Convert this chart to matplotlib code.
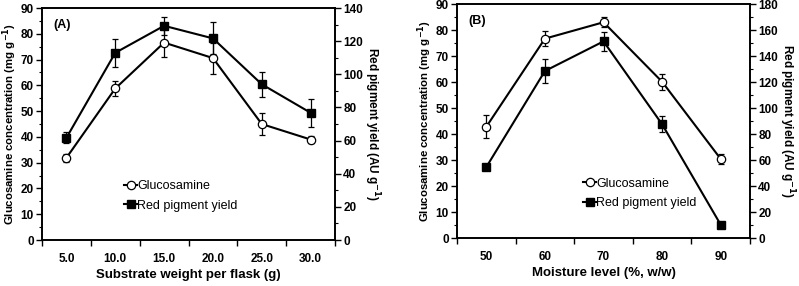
import numpy as np
import matplotlib.pyplot as plt
from matplotlib.ticker import MultipleLocator, FixedLocator, NullFormatter
from matplotlib.lines import Line2D

plt.rcParams['font.family'] = ['Liberation Sans', 'DejaVu Sans']

# panel A: substrate weight
subst = [5, 10, 15, 20, 25, 30]
subst_labels = ['5.0', '10.0', '15.0', '20.0', '25.0', '30.0']
glu_a = [31.9, 58.8, 76.6, 70.6, 45.0, 39.0]
glu_a_err = [1.5, 3.0, 5.5, 6.0, 4.3, 1.5]
red_a = [61.7, 113.0, 129.3, 121.7, 94.0, 76.8]
red_a_err = [3.3, 8.5, 5.5, 9.7, 7.5, 8.5]

# panel B: moisture level
moist = [50, 60, 70, 80, 90]
moist_labels = ['50', '60', '70', '80', '90']
glu_b = [42.8, 76.7, 83.0, 60.1, 30.4]
glu_b_err = [4.5, 3.0, 2.0, 3.0, 2.0]
red_b = [54.6, 128.5, 151.3, 87.5, 10.2]
red_b_err = [0.0, 9.0, 7.5, 6.0, 0.0]

fig = plt.figure(figsize=(7.99, 2.86), dpi=100)

panels = [
    dict(rect=[0.0526, 0.1608, 0.3667, 0.811], x=subst, xl=subst_labels, xlim=(2.5, 32.5), xstep=5,
         glu=glu_a, ge=glu_a_err, red=red_a, re=red_a_err, rmax=140, tag='(A)',
         xlabel='Substrate weight per flask (g)', leg=(0.26, 0.285)),
    dict(rect=[0.572, 0.1678, 0.3667, 0.818], x=moist, xl=moist_labels, xlim=(45, 95), xstep=10,
         glu=glu_b, ge=glu_b_err, red=red_b, re=red_b_err, rmax=180, tag='(B)',
         xlabel='Moisture level (%, w/w)', leg=(0.41, 0.285)),
]

for p in panels:
    ax = fig.add_axes(p['rect'])
    ax2 = ax.twinx()
    ekw = dict(color='black', lw=1.5, capsize=2, elinewidth=0.9, capthick=0.9)
    ax.errorbar(p['x'], p['glu'], yerr=p['ge'], marker='o', ms=6, mfc='white', mec='black',
                mew=0.9, zorder=3, **ekw)
    ax2.errorbar(p['x'], p['red'], yerr=p['re'], marker='s', ms=5.5, mfc='black', mec='black',
                 zorder=3, **ekw)

    ax.set_xlim(*p['xlim'])
    ax.set_ylim(0, 90)
    ax2.set_ylim(0, p['rmax'])
    ax.xaxis.set_major_locator(FixedLocator(np.arange(p['xlim'][0], p['xlim'][1] + 0.1, p['xstep'])))
    ax.xaxis.set_major_formatter(NullFormatter())
    ax.xaxis.set_minor_locator(FixedLocator(p['x']))
    ax.set_xticklabels(p['xl'], minor=True)
    ax.yaxis.set_major_locator(MultipleLocator(10))
    ax.yaxis.set_minor_locator(MultipleLocator(5))
    ax2.yaxis.set_major_locator(MultipleLocator(20))
    ax2.yaxis.set_minor_locator(MultipleLocator(10))
    for a in (ax, ax2):
        a.tick_params(which='major', length=4, width=1, labelsize=8.5, pad=2)
        a.tick_params(which='minor', length=2, width=0.8)
        for lab in a.get_xticklabels(minor=True) + a.get_yticklabels():
            lab.set_fontweight('bold')
        for s in a.spines.values():
            s.set_linewidth(1.2)
    ax.tick_params(axis='x', which='minor', length=0, pad=9, labelsize=8.5)

    ax.set_ylabel('Glucosamine concentration (mg g$^{\\mathbf{-1}}$)', fontsize=8.2, fontweight='bold', labelpad=1)
    ax2.set_ylabel('Red pigment yield (AU g$^{\\mathbf{-1}}$)', fontsize=8.5, fontweight='bold',
                   rotation=270, labelpad=13)
    ax.set_xlabel(p['xlabel'], fontsize=9.5, fontweight='bold', labelpad=3)
    ax.text(0.04, 0.955, p['tag'], transform=ax.transAxes, fontsize=9, fontweight='bold', va='top')

    h1 = Line2D([], [], color='black', lw=1.5, marker='o', ms=6, mfc='white', mec='black', mew=0.9)
    h2 = Line2D([], [], color='black', lw=1.5, marker='s', ms=5.5, mfc='black')
    ax2.legend([h1, h2], ['Glucosamine', 'Red pigment yield'], loc='upper left',
               bbox_to_anchor=p['leg'], frameon=False, fontsize=9, handlelength=1.0,
               handletextpad=0.0, labelspacing=0.6, borderpad=0)

fig.savefig('out.png', dpi=100)
